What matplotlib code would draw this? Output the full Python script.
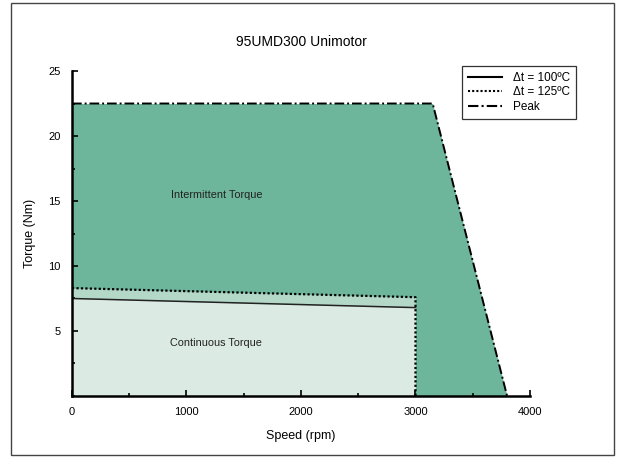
import matplotlib
matplotlib.use("Agg")
import matplotlib.pyplot as plt
from matplotlib.patches import Rectangle
from matplotlib.ticker import MultipleLocator

plt.rcParams['font.family'] = ['Liberation Sans', 'DejaVu Sans']

# torque-speed envelope
peak_speed = [0, 3150, 3800]
peak_torque = [22.5, 22.5, 0]
cont100_speed = [0, 3000]
cont100_torque = [7.5, 6.8]
cont125_speed = [0, 3000, 3000]
cont125_torque = [8.3, 7.6, 0]

dark = "#6db59b"
mid = "#b3d8c8"
light = "#dbeae3"

fig = plt.figure(figsize=(6.18, 4.57), dpi=100)
ax = fig.add_axes([0.1165, 0.1335, 0.7411, 0.7111])

# filled regions
ax.fill_between(peak_speed, peak_torque, 0, color=dark, lw=0)
ax.fill_between(cont125_speed[:2], cont125_torque[:2], 0, color=mid, lw=0)
ax.fill_between(cont100_speed, cont100_torque, 0, color=light, lw=0)

ax.plot(cont100_speed, cont100_torque, color="#222222", lw=1.1, ls="-", label="Δt = 100ºC")
ax.plot(cont125_speed, cont125_torque, color="black", lw=1.6, ls=(0, (1, 1)), label="Δt = 125ºC")
ax.plot(peak_speed, peak_torque, color="black", lw=1.4, ls=(0, (5, 1.5, 1, 1.5)), label="Peak")

ax.text(1260, 15.5, "Intermittent Torque", fontsize=7.8, ha="center", va="center", color="#222222")
ax.text(1260, 4.1, "Continuous Torque", fontsize=7.8, ha="center", va="center", color="#222222")

ax.set_xlim(0, 4000)
ax.set_ylim(0, 25)
ax.set_xticks([0, 1000, 2000, 3000, 4000])
ax.set_yticks([5, 10, 15, 20, 25])
ax.xaxis.set_minor_locator(MultipleLocator(500))
ax.yaxis.set_minor_locator(MultipleLocator(2.5))
ax.tick_params(which="both", direction="in", width=1.2, labelsize=8, colors="black")
ax.tick_params(which="major", length=4)
ax.tick_params(which="minor", length=2.5)
ax.tick_params(axis="x", pad=8)
ax.tick_params(axis="y", pad=8)
for s in ["top", "right"]:
    ax.spines[s].set_visible(False)
for s in ["left", "bottom"]:
    ax.spines[s].set_linewidth(1.8)

ax.set_xlabel("Speed (rpm)", fontsize=9, labelpad=9)
ax.set_ylabel("Torque (Nm)", fontsize=9, labelpad=9)
ax.set_title("95UMD300 Unimotor", fontsize=10, pad=18)

leg = ax.legend(loc="upper right", bbox_to_anchor=(1.113, 1.033), fontsize=8.5,
                frameon=True, fancybox=False, edgecolor="black", handlelength=2.9,
                borderpad=0.5, labelspacing=0.2, handletextpad=0.9)
leg.get_frame().set_linewidth(0.9)
for h in leg.get_lines():
    h.set_color("black")
    h.set_linewidth(1.5)

fig.patches.append(Rectangle((11 / 618, 2 / 457), 603 / 618, 452 / 457, transform=fig.transFigure,
                             fill=False, edgecolor="#444444", lw=1.0))

fig.savefig("out.png", dpi=100)
